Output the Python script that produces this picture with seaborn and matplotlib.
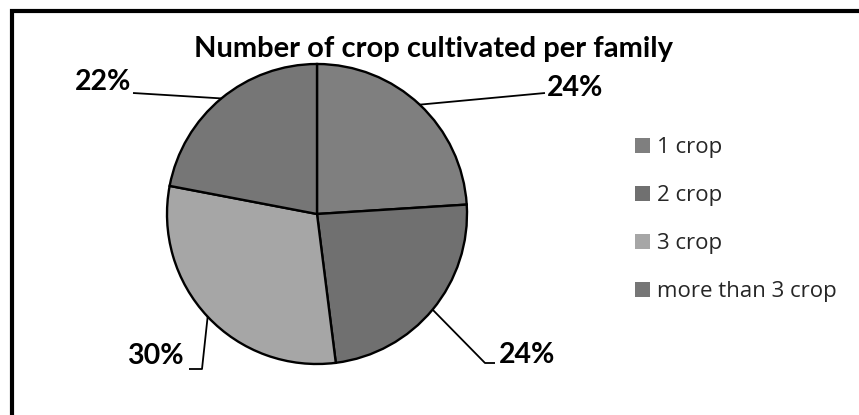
import numpy as np
import matplotlib
matplotlib.use("Agg")
import matplotlib.pyplot as plt
from matplotlib.patches import Rectangle, Patch
import seaborn as sns

# Data
categories = ["1 crop", "2 crop", "3 crop", "more than 3 crop"]
shares = [24, 24, 30, 22]
slice_colors = ["#7f7f7f", "#707070", "#a6a6a6", "#767676"]
title = "Number of crop cultivated per family"

sns.set_theme(style="white")
plt.rcParams["font.family"] = ["Lato", "DejaVu Sans"]

W, H = 859, 415
fig = plt.figure(figsize=(W / 100, H / 100), dpi=100)
fig.patch.set_facecolor("white")

# Pie axes: 300x300 px square, centred at (317, 214) px from top-left
cx, cy, r = 317, 214, 150
ax = fig.add_axes([(cx - r) / W, (H - cy - r) / H, 2 * r / W, 2 * r / H])
wedges, _ = ax.pie(
    shares,
    colors=slice_colors,
    startangle=90,
    counterclock=False,
    radius=1,
    wedgeprops=dict(edgecolor="black", linewidth=1.7),
)
ax.set_xlim(-1, 1)
ax.set_ylim(-1, 1)
ax.set_aspect("equal")
ax.axis("off")

def px(x, y):
    """pixel position -> pie data units"""
    return (x - cx) / r, (cy - y) / r

# Leader-line routes (px) and label anchors for each slice
routes = [
    [(545, 93)],
    [(485, 363), (495, 363)],
    [(202, 369), (189, 369)],
    [(133, 93)],
]
label_pos = [(547, 88, "left"), (499, 355, "left"), (184, 356, "right"), (131, 82, "right")]

fracs = np.array(shares) / sum(shares)
ends = np.cumsum(fracs)
starts = ends - fracs
for i, (s, e) in enumerate(zip(starts, ends)):
    mid = np.deg2rad(90 - 360 * (s + e) / 2)
    pts = [(np.cos(mid), np.sin(mid))] + [px(*p) for p in routes[i]]
    xs, ys = zip(*pts)
    ax.plot(xs, ys, color="black", lw=1.3, clip_on=False, solid_capstyle="butt")
    tx, ty = px(label_pos[i][0], label_pos[i][1])
    ax.text(tx, ty, f"{shares[i]}%", ha=label_pos[i][2], va="center",
            fontsize=20.5, fontweight="bold", color="black", clip_on=False)

# Title
fig.text(434 / W, 1 - 49 / H, title, ha="center", va="center",
         fontsize=21, fontweight="bold", color="black")

# Legend with plain grey swatches
handles = [Patch(facecolor=c, edgecolor="none") for c in slice_colors]
fig.legend(
    handles, categories,
    loc="upper left", bbox_to_anchor=(635 / W, 1 - 137 / H),
    frameon=False, labelspacing=1.22,
    handlelength=0.66, handleheight=0.66, handletextpad=0.35,
    borderpad=0, borderaxespad=0,
    prop={"family": ["Open Sans", "DejaVu Sans"], "size": 16},
)

# Outer frame running off the right and bottom edges
fig.patches.append(Rectangle((12 / W, -0.2), 1.3, 1.2 - 11 / H,
                             transform=fig.transFigure, fill=False,
                             edgecolor="black", linewidth=3.0))

fig.savefig("out.png", dpi=100, facecolor="white")
